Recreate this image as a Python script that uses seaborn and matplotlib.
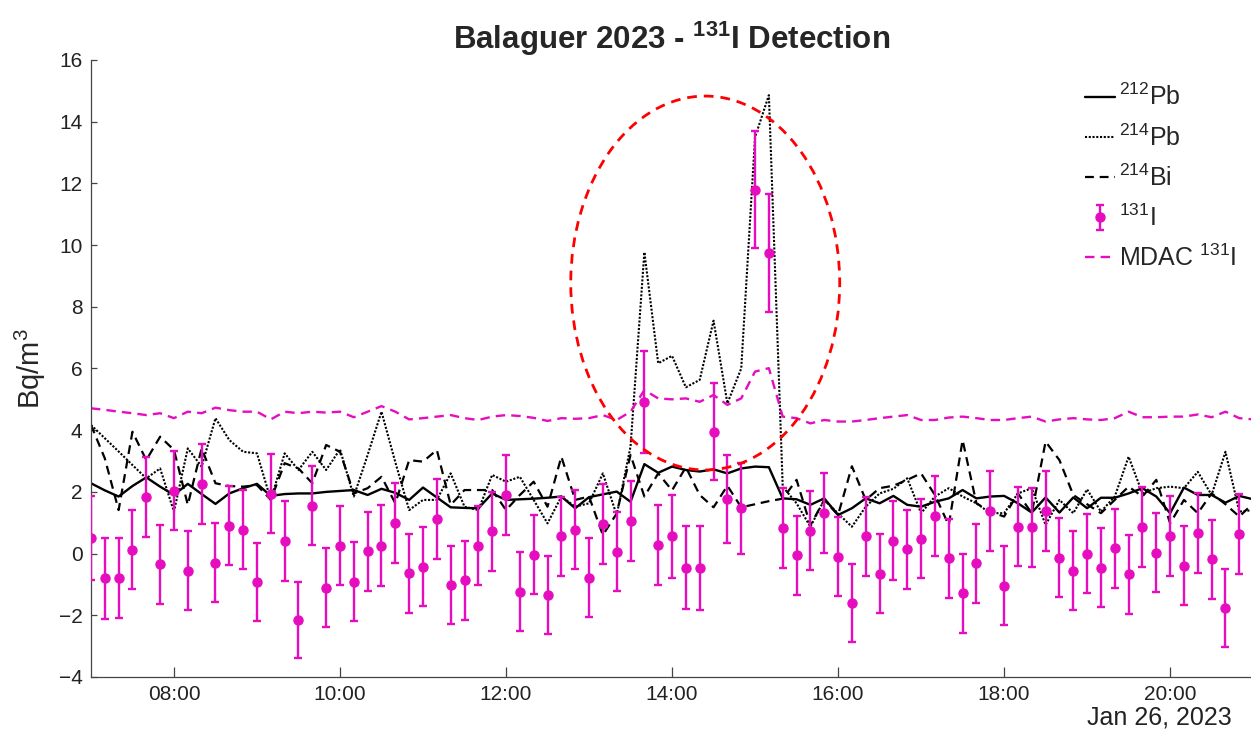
import matplotlib
matplotlib.use("Agg")
import numpy as np
import pandas as pd
import matplotlib.pyplot as plt
import matplotlib.dates as mdates
from matplotlib.patches import Ellipse
import seaborn as sns

# Sampling: one value every 10 minutes from 07:00 on 26 Jan 2023
start = "2023-01-26 07:00"
step = "10min"

pb212 = [2.28, 2.05, 1.85, 2.19, 2.47, 2.17, 1.90, 2.26, 1.93, 1.61,
         1.95, 2.12, 2.26, 1.87, 1.93, 1.95, 1.95, 2.00, 2.03, 2.06,
         1.90, 2.10, 1.97, 1.74, 2.14, 1.82, 1.50, 1.48, 1.47, 1.95,
         1.74, 1.76, 1.78, 1.81, 1.85, 1.47, 1.83, 1.92, 2.01, 1.68,
         2.90, 2.62, 2.82, 2.71, 2.66, 2.73, 2.60, 2.76, 2.82, 2.80,
         1.79, 1.76, 1.58, 1.79, 1.25, 1.47, 1.79, 1.63, 1.87, 1.58,
         1.52, 1.68, 1.79, 2.06, 1.79, 1.85, 1.87, 1.63, 1.33, 1.82,
         1.33, 1.82, 1.47, 1.81, 1.81, 1.95, 2.12, 1.85, 1.31, 2.14,
         1.90, 1.90, 1.65, 1.87, 1.76]

pb214 = [4.17, 3.74, 3.31, 2.87, 2.44, 2.76, 1.36, 3.41, 2.82, 4.39,
         3.68, 3.30, 3.25, 1.74, 3.25, 2.71, 3.30, 2.71, 3.38, 1.85,
         3.20, 4.60, 2.96, 1.41, 1.74, 1.74, 2.60, 1.52, 1.41, 2.55,
         2.33, 2.49, 1.74, 0.98, 1.85, 1.52, 1.63, 2.60, 1.25, 3.47,
         9.77, 6.17, 6.41, 5.39, 5.63, 7.55, 4.87, 6.00, 13.50, 14.86,
         2.17, 1.63, 0.87, 1.74, 1.30, 0.87, 1.52, 1.95, 2.10, 2.44,
         1.31, 1.85, 2.12, 1.85, 1.63, 1.31, 1.31, 1.95, 2.12, 0.93,
         1.74, 1.31, 2.08, 1.36, 1.85, 3.14, 1.95, 2.12, 2.17, 2.12,
         2.65, 1.90, 3.30, 1.36, 1.41]

bi214 = [4.17, 3.09, 1.41, 3.95, 3.03, 3.79, 3.36, 1.58, 3.41, 2.28,
         2.19, 2.17, 2.22, 1.74, 2.93, 2.76, 2.28, 3.52, 3.30, 1.95,
         2.12, 2.49, 1.63, 3.03, 2.98, 3.36, 1.58, 2.06, 2.06, 2.06,
         1.41, 1.90, 2.33, 1.52, 3.14, 1.74, 1.85, 0.60, 1.30, 3.20,
         1.85, 2.60, 2.05, 2.80, 1.90, 1.50, 2.20, 1.50, 1.60, 1.70,
         1.78, 2.39, 0.92, 1.74, 1.25, 2.83, 1.74, 2.12, 2.20, 2.39,
         2.60, 1.90, 0.92, 3.68, 1.63, 1.36, 1.20, 1.95, 1.31, 3.63,
         3.03, 1.90, 1.60, 1.31, 1.74, 2.17, 1.85, 2.39, 0.98, 1.74,
         1.31, 1.95, 1.60, 1.20, 1.63]

mdac_i131 = [4.71, 4.66, 4.60, 4.55, 4.49, 4.55, 4.39, 4.60, 4.55, 4.73,
             4.65, 4.60, 4.60, 4.35, 4.60, 4.55, 4.60, 4.57, 4.60, 4.42,
             4.60, 4.78, 4.60, 4.35, 4.39, 4.44, 4.49, 4.39, 4.33, 4.44,
             4.49, 4.46, 4.40, 4.30, 4.39, 4.37, 4.39, 4.49, 4.33, 4.60,
             5.30, 5.03, 5.00, 5.03, 4.92, 5.14, 4.82, 5.03, 5.90, 6.01,
             4.44, 4.39, 4.22, 4.33, 4.28, 4.28, 4.33, 4.39, 4.44, 4.49,
             4.33, 4.33, 4.41, 4.44, 4.39, 4.33, 4.33, 4.39, 4.44, 4.28,
             4.35, 4.39, 4.35, 4.33, 4.39, 4.60, 4.42, 4.42, 4.44, 4.44,
             4.51, 4.42, 4.60, 4.39, 4.35]

i131 = [0.50, -0.80, -0.80, 0.12, 1.84, -0.35, 2.04, -0.56, 2.25, -0.30,
        0.90, 0.78, -0.93, 1.94, 0.40, -2.15, 1.55, -1.10, 0.26, -0.91,
        0.08, 0.26, 0.98, -0.63, -0.42, 1.13, -1.02, -0.86, 0.26, 0.73,
        1.89, -1.23, -0.03, -1.35, 0.56, 0.77, -0.79, 0.96, 0.06, 1.05,
        4.92, 0.29, 0.56, -0.46, -0.47, 3.95, 1.77, 1.47, 11.80, 9.75,
        0.84, -0.06, 0.74, 1.31, -0.10, -1.60, 0.56, -0.66, 0.42, 0.14,
        0.48, 1.21, -0.15, -1.29, -0.32, 1.38, -1.04, 0.87, 0.86, 1.38,
        -0.13, -0.56, -0.01, -0.46, 0.17, -0.67, 0.86, 0.03, 0.58, -0.40,
        0.66, -0.18, -1.77, 0.63]

i131_err = [1.37, 1.31, 1.30, 1.28, 1.30, 1.28, 1.27, 1.28, 1.30, 1.28,
            1.28, 1.28, 1.27, 1.28, 1.30, 1.23, 1.28, 1.28, 1.27, 1.28,
            1.28, 1.30, 1.30, 1.28, 1.28, 1.30, 1.27, 1.28, 1.28, 1.28,
            1.30, 1.27, 1.28, 1.27, 1.28, 1.28, 1.28, 1.30, 1.28, 1.30,
            1.65, 1.30, 1.35, 1.35, 1.35, 1.57, 1.42, 1.47, 1.90, 1.91,
            1.30, 1.28, 1.28, 1.30, 1.28, 1.27, 1.28, 1.28, 1.28, 1.28,
            1.28, 1.30, 1.28, 1.27, 1.28, 1.30, 1.27, 1.28, 1.28, 1.30,
            1.28, 1.28, 1.28, 1.28, 1.28, 1.28, 1.30, 1.28, 1.30, 1.28,
            1.30, 1.28, 1.26, 1.30]

# Highlight around the 131I episode: centre time, centre value, width (h), height
ring_centre = ("2023-01-26 14:24", 8.77)
ring_size = (3.24, 12.12)

MAGENTA = "#E60DBE"

times = pd.date_range(start, periods=len(pb212), freq=step)
lines = pd.DataFrame({"time": times, "pb212": pb212, "pb214": pb214,
                      "bi214": bi214, "mdac": mdac_i131})
iodine = pd.DataFrame({"time": times[:len(i131)], "value": i131, "err": i131_err})

sns.set_theme(style="ticks")
plt.rcParams["font.family"] = ["Liberation Sans", "DejaVu Sans"]
plt.rcParams["mathtext.fontset"] = "custom"
plt.rcParams["mathtext.rm"] = "Liberation Sans"
plt.rcParams["mathtext.it"] = "Liberation Sans:italic"
plt.rcParams["mathtext.bf"] = "Liberation Sans:bold"

fig = plt.figure(figsize=(12.51, 7.46), dpi=100)
ax = fig.add_axes([0.0727, 0.0925, 0.929, 0.8271])

sns.lineplot(data=lines, x="time", y="pb212", ax=ax, color="black",
             linewidth=1.7, label=r"$^{212}$Pb")
sns.lineplot(data=lines, x="time", y="pb214", ax=ax, color="black",
             linewidth=1.5, linestyle=(0, (1, 0.8)), label=r"$^{214}$Pb")
sns.lineplot(data=lines, x="time", y="bi214", ax=ax, color="black",
             linewidth=1.6, linestyle=(0, (4, 2.6)), label=r"$^{214}$Bi")
err = ax.errorbar(iodine["time"], iodine["value"], yerr=iodine["err"], fmt="o",
                  color=MAGENTA, ms=6.5, elinewidth=1.7, capsize=3,
                  capthick=1.7, zorder=4, label=r"$^{131}$I")
sns.lineplot(data=lines, x="time", y="mdac", ax=ax, color=MAGENTA,
             linewidth=1.7, linestyle=(0, (4, 2.6)), label=r"MDAC $^{131}$I")

cx = mdates.date2num(pd.Timestamp(ring_centre[0]))
ax.add_patch(Ellipse((cx, ring_centre[1]), ring_size[0] / 24, ring_size[1],
                     fill=False, edgecolor="#FF0000", linewidth=2.0,
                     linestyle=(0, (3.5, 2.5)), zorder=5))

ax.set_xlim(pd.Timestamp("2023-01-26 07:00"), pd.Timestamp("2023-01-26 21:00"))
ax.set_ylim(-4, 16)
ax.set_yticks(np.arange(-4, 17, 2))
ax.xaxis.set_major_locator(mdates.HourLocator(byhour=range(8, 21, 2)))
ax.xaxis.set_major_formatter(mdates.DateFormatter("%H:%M"))

ax.set_xlabel("")
ax.set_ylabel(r"Bq/m$^3$", fontsize=21, labelpad=8)
ax.set_title(r"Balaguer 2023 - $\mathbf{^{131}}$I Detection", fontsize=22.5,
             fontweight="bold", pad=8)

for side in ("top", "right"):
    ax.spines[side].set_visible(False)
for side in ("left", "bottom"):
    ax.spines[side].set_color("#444444")
    ax.spines[side].set_linewidth(0.9)
ax.tick_params(axis="both", direction="in", labelsize=15, color="#444444",
               labelcolor="#222222", width=0.9)
ax.tick_params(axis="x", length=7, pad=6)
ax.tick_params(axis="y", length=4, pad=6)

fig.text(0.985, 1 - 717 / 746, "Jan 26, 2023", ha="right", va="center",
         fontsize=18, color="#222222")

# Legend order: radon progeny lines, 131I measurements, detection limit
handles, labels = ax.get_legend_handles_labels()
order = [labels.index(lab) for lab in
         (r"$^{212}$Pb", r"$^{214}$Pb", r"$^{214}$Bi", r"$^{131}$I",
          r"MDAC $^{131}$I")]
ax.legend([handles[i] for i in order], [labels[i] for i in order],
          loc="upper left", frameon=False, fontsize=18,
          bbox_to_anchor=(1075 / 1251, 1 - 74 / 746),
          bbox_transform=fig.transFigure, handlelength=1.2,
          handletextpad=0.15, labelspacing=0.55, borderaxespad=0)

fig.savefig("out.png", dpi=100)
